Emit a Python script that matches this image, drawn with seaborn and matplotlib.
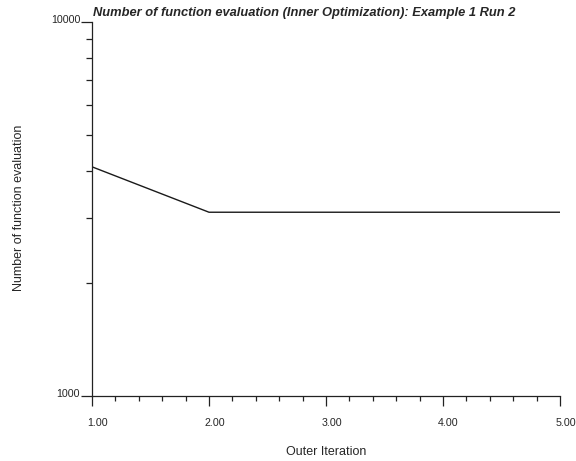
import numpy as np
import pandas as pd
import matplotlib
matplotlib.use("Agg")
import matplotlib.pyplot as plt
import matplotlib.transforms as mtransforms
from matplotlib.ticker import FixedLocator, NullFormatter, FixedFormatter
import seaborn as sns

# Outer iterations and function-evaluation counts of the inner optimizer
outer_iteration = [1, 2, 3, 4, 5]
function_evals = [4100, 3100, 3100, 3100, 3100]

x_major = [1.0, 2.0, 3.0, 4.0, 5.0]
x_major_labels = ["1.00", "2.00", "3.00", "4.00", "5.00"]
y_major = [1000, 10000]
y_major_labels = ["1000", "10000"]

sns.set_style("ticks")
plt.rcParams["font.family"] = ["Liberation Sans", "DejaVu Sans"]

df = pd.DataFrame({"iter": outer_iteration, "evals": function_evals})

fig = plt.figure(figsize=(5.76, 4.61), dpi=100)
ax = fig.add_axes([92 / 576, 1 - 396 / 461, (560 - 92) / 576, (396 - 22) / 461])

sns.lineplot(data=df, x="iter", y="evals", ax=ax, color="#1a1a1a", linewidth=1.0)

ax.set_yscale("log")
ax.set_xlim(1.0, 5.0)
ax.set_ylim(1000, 10000)

# x ticks: majors at whole iterations, minors every 0.2
ax.xaxis.set_major_locator(FixedLocator(x_major))
ax.xaxis.set_major_formatter(FixedFormatter(x_major_labels))
x_minor = [v for v in np.arange(1.0, 5.0001, 0.2) if abs(v - round(v)) > 1e-6]
ax.xaxis.set_minor_locator(FixedLocator(x_minor))
ax.xaxis.set_minor_formatter(NullFormatter())

# y ticks: decades as majors, 2000..9000 as minors
ax.yaxis.set_major_locator(FixedLocator(y_major))
ax.yaxis.set_major_formatter(FixedFormatter(y_major_labels))
ax.yaxis.set_minor_locator(FixedLocator([k * 1000 for k in range(2, 10)]))
ax.yaxis.set_minor_formatter(NullFormatter())

ax.tick_params(axis="x", which="major", direction="out", length=7.5, width=0.9,
               pad=8, labelsize=7.7, color="#222222")
ax.tick_params(axis="x", which="minor", direction="out", length=3.5, width=0.9,
               color="#222222")
ax.tick_params(axis="y", which="major", direction="out", length=8, width=0.9,
               pad=0.5, labelsize=7.7, color="#222222")
ax.tick_params(axis="y", which="minor", direction="out", length=4, width=0.9,
               color="#222222")

# nudge tick labels: x labels a bit right, y labels sitting on their tick line
dx = mtransforms.ScaledTranslation(5.5 / 100, 0, fig.dpi_scale_trans)
for lab in ax.get_xticklabels():
    lab.set_transform(lab.get_transform() + dx)
dy = mtransforms.ScaledTranslation(0, 3.5 / 100, fig.dpi_scale_trans)
for lab in ax.get_yticklabels():
    lab.set_transform(lab.get_transform() + dy)

for side in ("top", "right"):
    ax.spines[side].set_visible(False)
for side in ("left", "bottom"):
    ax.spines[side].set_linewidth(0.9)
    ax.spines[side].set_color("#222222")

ax.set_xlabel("Outer Iteration", fontsize=9)
ax.xaxis.label.set_va("center")
ax.xaxis.set_label_coords(0.5, (396 - 452) / 374)

ax.set_ylabel("Number of function evaluation", fontsize=9)
ax.yaxis.label.set_va("center")
ax.yaxis.label.set_ha("center")
ax.yaxis.set_label_coords((19 - 92) / 468, (396 - 207.5) / 374)

fig.text(93 / 576, 1 - 13 / 461,
         "Number of function evaluation (Inner Optimization): Example 1 Run 2",
         fontsize=9.3, fontweight="bold", fontstyle="italic",
         ha="left", va="center")

fig.savefig("out.png", dpi=100)
